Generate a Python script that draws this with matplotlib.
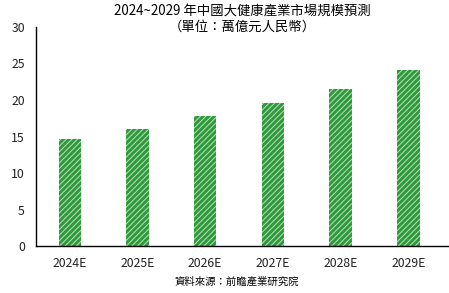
import matplotlib
matplotlib.use("Agg")
import matplotlib.pyplot as plt

plt.rcParams['font.family'] = ['Noto Sans CJK TC', 'DejaVu Sans']
plt.rcParams['hatch.linewidth'] = 0.7

categories = ['2024E', '2025E', '2026E', '2027E', '2028E', '2029E']
values = [14.6, 16.0, 17.8, 19.6, 21.5, 24.1]
yticks = [0, 5, 10, 15, 20, 25, 30]

fig = plt.figure(figsize=(4.49, 2.93), dpi=100)
ax = fig.add_axes([0.08, 0.16, 0.92, 0.748])
x = list(range(len(categories)))
ax.bar(x, values, width=0.33, color='#2f9a3b', linewidth=0)
ax.bar(x, values, width=0.33, facecolor='none', edgecolor='#b9e0bd', hatch='//////', linewidth=0)
ax.set_xlim(-0.5, 5.6)
ax.set_ylim(0, 30)
ax.set_yticks(yticks)
ax.set_xticks(x)
ax.set_xticklabels(categories)
ax.tick_params(length=0, labelsize=8.8, colors='#222222', pad=8)
ax.tick_params(axis='y', pad=8)
for s in ['top', 'right']:
    ax.spines[s].set_visible(False)
ax.spines['left'].set_linewidth(1.0)
ax.spines['bottom'].set_linewidth(1.0)
fig.text(0.54, 1 - 12 / 293, '2024~2029 年中國大健康產業市場規模預測', fontsize=9.6, ha='center', va='center')
fig.text(0.54, 1 - 27 / 293, '（單位：萬億元人民幣）', fontsize=9.6, ha='center', va='center')
fig.text(0.528, 1 - 282 / 293, '資料來源：前瞻產業研究院', fontsize=7.5, ha='center', va='center')
fig.savefig('out.png', dpi=100)
